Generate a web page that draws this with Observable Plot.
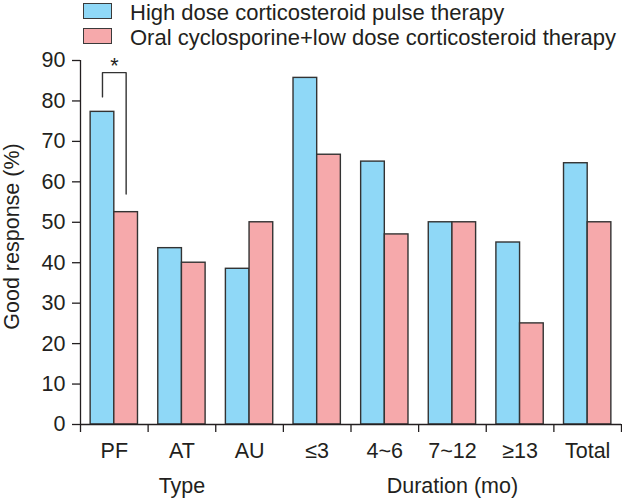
<!DOCTYPE html>
<html>
<head>
<meta charset="utf-8">
<script src="https://cdn.jsdelivr.net/npm/d3@7"></script>
<script src="https://cdn.jsdelivr.net/npm/@observablehq/plot@0.6"></script>
<style>
  html, body { margin: 0; padding: 0; background: #fff; }
  body { font-family: "Liberation Sans", Arial, Helvetica, sans-serif; color: #231f20; }
  #legend { position: relative; width: 622px; height: 46px; }
  .sw { position: absolute; left: 83px; width: 27px; height: 14px; border: 1.3px solid #3a3a3a; }
  .lt { position: absolute; left: 130px; font-size: 22px; line-height: 25px; white-space: nowrap; }
  #chart svg { display: block; overflow: visible; }
</style>
</head>
<body>
<div id="legend"></div>
<div id="chart"></div>
<script>
const categories = ["PF", "AT", "AU", "≤3", "4~6", "7~12", "≥13", "Total"];
const pulseValues = [77.3, 43.6, 38.5, 85.7, 65.0, 50.0, 45.0, 64.6];
const oralValues = [52.5, 40.0, 50.0, 66.7, 47.0, 50.0, 25.0, 50.0];
const seriesNames = ["High dose corticosteroid pulse therapy", "Oral cyclosporine+low dose corticosteroid therapy"];
const seriesColors = ["#8fd8f7", "#f6a9ab"];
const yTicks = [0, 10, 20, 30, 40, 50, 60, 70, 80, 90];
const groupLabels = [{at: "AT", label: "Type"}, {at: "7~12", label: "Duration (mo)"}];
const bracketPoints = [
  {cat: "PF", s: 0, v: 81}, {cat: "PF", s: 0, v: 87},
  {cat: "PF", s: 1, v: 87}, {cat: "PF", s: 1, v: 57}
];
const starNote = [{cat: "PF", v: 87, label: "*"}];

const FONT = '"Liberation Sans", Arial, Helvetica, sans-serif';
const INK = "#231f20";
const LINE = "#333333";
const FS = 21.5;
const GAP = 0.15, BW = 0.35; // slot layout inside each category

// legend
const legend = document.getElementById("legend");
seriesNames.forEach((name, s) => {
  const sw = document.createElement("div");
  sw.className = "sw";
  sw.style.top = (3 + s * 25) + "px";
  sw.style.background = seriesColors[s];
  legend.appendChild(sw);
  const t = document.createElement("div");
  t.className = "lt";
  t.style.top = (0 + s * 25) + "px";
  t.textContent = name;
  legend.appendChild(t);
});

const idx = c => categories.indexOf(c);
const rows = categories.flatMap((c, i) => [
  {cat: c, i, s: 0, series: seriesNames[0], value: pulseValues[i]},
  {cat: c, i, s: 1, series: seriesNames[1], value: oralValues[i]}
]);

const chart = Plot.plot({
  width: 622,
  height: 453,
  marginLeft: 80,
  marginRight: 1,
  marginTop: 14,
  marginBottom: 75,
  x: {domain: [0, categories.length]},
  y: {domain: [0, 90]},
  color: {domain: seriesNames, range: seriesColors},
  style: {fontFamily: FONT, fontSize: FS + "px", color: INK, background: "#fff"},
  marks: [
    Plot.rectY(rows, {
      x1: d => d.i + GAP + d.s * BW,
      x2: d => d.i + GAP + (d.s + 1) * BW,
      y: "value",
      fill: "series",
      stroke: LINE,
      strokeWidth: 1.4
    }),
    Plot.ruleX([0], {stroke: INK, strokeWidth: 1.3}),
    Plot.ruleY([0], {stroke: INK, strokeWidth: 1.3}),
    Plot.axisY(yTicks, {tickSize: 8, tickPadding: 7, fontSize: FS, label: null, stroke: INK, strokeWidth: 1.3}),
    Plot.axisX(d3.range(0, categories.length + 1), {tickSize: 8, tickFormat: () => "", label: null, stroke: INK, strokeWidth: 1.3}),
    Plot.text(categories, {x: (d, i) => i + 0.5, text: d => d, frameAnchor: "bottom", dy: 33, fontSize: FS, fill: INK}),
    Plot.text(groupLabels, {x: d => idx(d.at) + 0.5, text: "label", frameAnchor: "bottom", dy: 68, fontSize: FS, fill: INK}),
    Plot.text(["Good response (%)"], {frameAnchor: "left", textAnchor: "middle", rotate: -90, dx: -68, dy: -6, fontSize: FS, fill: INK}),
    Plot.line(bracketPoints, {x: d => idx(d.cat) + GAP + (d.s + 0.5) * BW, y: "v", stroke: LINE, strokeWidth: 1.4}),
    Plot.text(starNote, {x: d => idx(d.cat) + 0.5, y: "v", text: "label", lineAnchor: "bottom", dy: 0, fontSize: FS, fill: INK})
  ]
});
document.getElementById("chart").appendChild(chart);
</script>
</body>
</html>
